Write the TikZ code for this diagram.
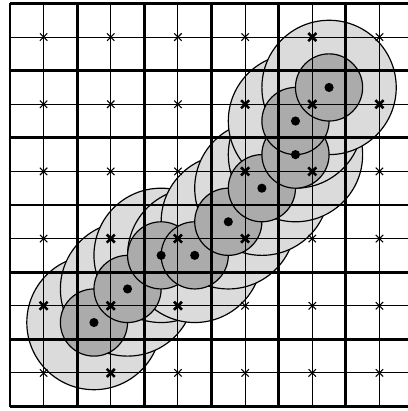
\documentclass[tikz,border=0pt]{standalone}
\usetikzlibrary{calc}

\begin{document}
\begin{tikzpicture}[
  thinline/.style={line width=0.45pt},
  thickline/.style={line width=1.2pt},
  outerdisk/.style={fill=black!14, draw=black, line width=0.5pt},
  innerdisk/.style={fill=black!33, draw=black, line width=0.5pt},
  crossthin/.style={line width=0.45pt},
  crossbold/.style={line width=1.1pt}]
  \clip (-0.149,-0.067) rectangle (5.923,6.052);
  % large disks, then small ones on top
  \foreach \x/\y in {1.25/1.25, 1.75/1.75, 2.25/2.25, 2.75/2.25, 3.25/2.75,
                     3.75/3.25, 4.25/3.75, 4.25/4.25, 4.75/4.75}
    \draw [outerdisk] (\x,\y) circle (1);
  \foreach \x/\y in {1.25/1.25, 1.75/1.75, 2.25/2.25, 2.75/2.25, 3.25/2.75,
                     3.75/3.25, 4.25/3.75, 4.25/4.25, 4.75/4.75}
    \draw [innerdisk] (\x,\y) circle (0.5);
  % grid
  \draw [thinline] (0,0) grid [step=0.5] (6.5,6);
  \draw [thickline] (0,0) grid [step=1] (6.5,6);
  % sample points
  \foreach \x in {0.5,1.5,...,5.5}
    \foreach \y in {0.5,1.5,...,5.5}
      \draw [crossthin, shift={(\x,\y)}] (-0.055,-0.055) -- (0.055,0.055) (-0.055,0.055) -- (0.055,-0.055);
  \foreach \x/\y in {4.5/5.5, 3.5/4.5, 4.5/4.5, 5.5/4.5, 3.5/3.5, 4.5/3.5, 1.5/2.5,
                     2.5/2.5, 3.5/2.5, 0.5/1.5, 1.5/1.5, 2.5/1.5, 1.5/0.5}
    \draw [crossbold, shift={(\x,\y)}] (-0.06,-0.06) -- (0.06,0.06) (-0.06,0.06) -- (0.06,-0.06);
  % centres
  \foreach \x/\y in {1.25/1.25, 1.75/1.75, 2.25/2.25, 2.75/2.25, 3.25/2.75,
                     3.75/3.25, 4.25/3.75, 4.25/4.25, 4.75/4.75}
    \fill (\x,\y) circle (0.068);
\end{tikzpicture}
\end{document}
